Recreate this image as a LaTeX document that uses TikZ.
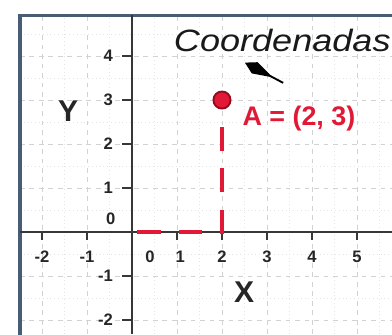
\documentclass[tikz,border=0pt]{standalone}
\usepackage{fontspec}
\setmainfont{Liberation Sans}
\usetikzlibrary{arrows.meta, positioning, calc}
\definecolor{marco}{RGB}{72,92,115}
\definecolor{rojo}{RGB}{225,25,55}
\definecolor{rojoosc}{RGB}{150,10,30}
\definecolor{eje}{RGB}{55,55,55}

\begin{document}
\begin{tikzpicture}[x=1cm, y=0.978cm,
  grid/.style={gray!35, dashed, line width=0.4pt},
  subgrid/.style={gray!20, dotted, line width=0.4pt},
  axis/.style={eje, line width=1.3pt},
  tick/.style={eje, line width=0.9pt},
  ticklbl/.style={font=\fontsize{10.5}{12}\selectfont\bfseries, text=black!85, inner sep=0pt},
  axislbl/.style={font=\fontsize{19}{22}\selectfont\bfseries, text=black!85, inner sep=0pt},
  guide/.style={rojo, line width=2.8pt, dash pattern=on 15pt off 11.3pt},
  pt/.style={circle, draw=rojoosc, fill=rojo, line width=1.2pt, minimum size=0.38cm, inner sep=0pt}]

  \useasboundingbox (-2.933,-2.318) rectangle (5.778,5.273);
  \fill[white] (-2.933,-2.318) rectangle (5.778,5.273);

  % cuadricula
  \foreach \x in {-2.5,-1.5,...,5.5} \draw[subgrid] (\x,-2.318) -- (\x,4.93);
  \foreach \y in {-1.5,-0.5,...,4.5} \draw[subgrid] (-2.49,\y) -- (5.778,\y);
  \foreach \x in {-2,...,5} \draw[grid] (\x,-2.318) -- (\x,4.93);
  \foreach \y in {-2,...,4} \draw[grid] (-2.49,\y) -- (5.778,\y);

  % marco
  \draw[marco, line width=2pt] (-2.49,-2.4) -- (-2.49,4.93) -- (5.9,4.93);

  % ejes
  \coordinate (O) at (0,0);
  \draw[axis] (-2.49,0) -- (5.778,0);
  \draw[axis] (0,-2.318) -- (0,4.93);
  \foreach \x in {-2,-1,1,2,3,4,5} \draw[tick] (\x,0) -- (\x,-0.17);
  \foreach \y in {-2,-1,1,2,3,4} \draw[tick] (0,\y) -- (-0.22,\y);

  \foreach \x/\t in {-2/-2,-1/-1,0.4/0,1.07/1,2/2,3/3,4/4,5/5}
    \node[ticklbl] (xl\t) at (\x,-0.57) {\t};
  \foreach \y in {-2,-1,1,2,3,4}
    \node[ticklbl, anchor=east] (yl\y) at (-0.42,\y) {\y};
  \node[ticklbl, anchor=east] (yl0) at (-0.36,0.3) {0};

  \node[axislbl] (ejeY) at (-1.42,2.75) {Y};
  \node[axislbl] (ejeX) at (2.49,-1.36) {X};

  % titulo y flecha
  \node[anchor=base, inner sep=0pt, font=\fontsize{19.5}{22}\selectfont\itshape, text=black!90] (titulo) at (3.34,4.11) {\scalebox{1.17}[1]{Coordenadas}};
  \coordinate (fcola) at (3.36,3.39);
  \coordinate (fpunta) at (2.51,3.85);
  \draw[black, line width=1.2pt, -{Kite[length=20pt, width=8pt, inset=13pt]}] (fcola) -- (fpunta);

  % punto A
  \draw[guide] (2,2.39) -- (2,0) -- (O);
  \node[pt] (A) at (2,3) {};
  \node[anchor=base west, inner sep=0pt, font=\fontsize{17}{20}\selectfont\bfseries, text=rojo] (Albl) at (2.45,2.43) {A = (2, 3)};
\end{tikzpicture}
\end{document}
